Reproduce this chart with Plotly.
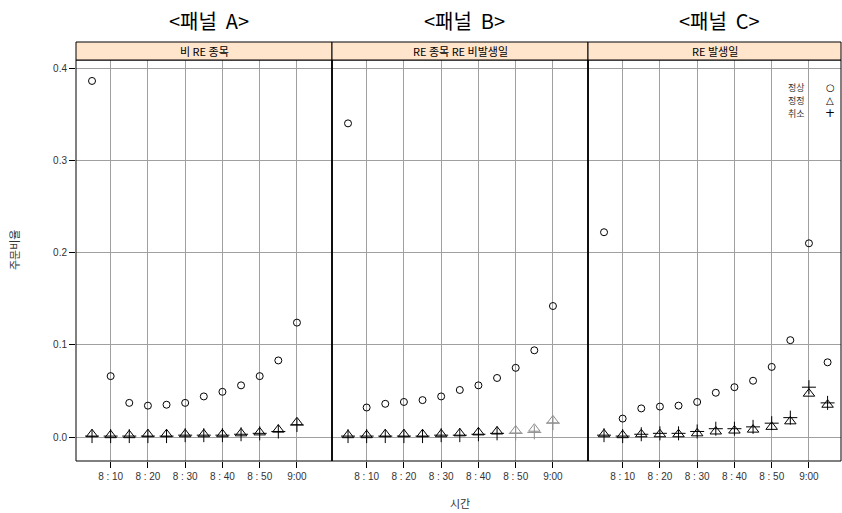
import plotly.graph_objects as go

# ---- data ----
MINUTES_AB = [5, 10, 15, 20, 25, 30, 35, 40, 45, 50, 55, 60]
MINUTES_C = [5, 10, 15, 20, 25, 30, 35, 40, 45, 50, 55, 60, 65]
TICK_VALS = [10, 20, 30, 40, 50, 60]
TICK_LABELS = ["8 : 10", "8 : 20", "8 : 30", "8 : 40", "8 : 50", "9:00"]
Y_TICKS = [0.0, 0.1, 0.2, 0.3, 0.4]
Y_LABELS = ["0.0", "0.1", "0.2", "0.3", "0.4"]

PANEL_TITLES = ["<패널 A>", "<패널 B>", "<패널 C>"]
STRIP_LABELS = ["비 RE 종목", "RE 종목 RE 비발생일", "RE 발생일"]
SERIES_NAMES = ["정상", "정정", "취소"]

A_normal = [0.386, 0.066, 0.037, 0.034, 0.035, 0.037, 0.044, 0.049, 0.056, 0.066, 0.083, 0.124]
A_modify = [0.003, 0.002, 0.002, 0.003, 0.003, 0.003, 0.003, 0.003, 0.004, 0.005, 0.008, 0.016]
A_cancel = [0.001, 0.001, 0.001, 0.001, 0.001, 0.002, 0.002, 0.002, 0.003, 0.004, 0.006, 0.013]

B_normal = [0.340, 0.032, 0.036, 0.038, 0.040, 0.044, 0.051, 0.056, 0.064, 0.075, 0.094, 0.142]
B_modify = [0.002, 0.002, 0.003, 0.003, 0.003, 0.003, 0.004, 0.005, 0.006, 0.007, 0.009, 0.018]
B_cancel = [0.001, 0.001, 0.001, 0.001, 0.001, 0.002, 0.002, 0.003, 0.004, 0.004, 0.005, 0.015]

C_normal = [0.222, 0.020, 0.031, 0.033, 0.034, 0.038, 0.048, 0.054, 0.061, 0.076, 0.105, 0.210, 0.081]
C_modify = [0.003, 0.002, 0.003, 0.003, 0.003, 0.004, 0.006, 0.007, 0.008, 0.011, 0.017, 0.047, 0.035]
C_cancel = [0.002, 0.001, 0.003, 0.004, 0.004, 0.006, 0.009, 0.009, 0.011, 0.015, 0.021, 0.054, 0.037]

# ---- layout geometry ----
W, H = 842, 513
FONT = "Noto Sans CJK KR"
NUM_FONT = "Liberation Sans, Noto Sans CJK KR"
panels_px = [(76, 332), (332, 588), (588, 841)]
plot_top, plot_bot = 60, 461
strip_top = 42
PX_PER_MIN = 3.726
X0 = 0.7


def px2fx(px):
    return px / W


def px2fy(py):
    return (H - py) / H


fig = go.Figure()

panel_data = [
    (MINUTES_AB, A_normal, A_modify, A_cancel, None),
    (MINUTES_AB, B_normal, B_modify, B_cancel, 9),  # from index 9 drawn grey
    (MINUTES_C, C_normal, C_modify, C_cancel, None),
]

symbols = ["circle-open", "triangle-up-open", "cross-thin-open"]
sizes = [7, 10, 10]

for i, (xs, n, m, c, grey_from) in enumerate(panel_data):
    ax = "" if i == 0 else str(i + 1)
    for k, ys in enumerate([n, m, c]):
        if grey_from is not None and k > 0:
            cols = ["black" if j < grey_from else "#8c8c8c" for j in range(len(ys))]
        else:
            cols = "black"
        fig.add_trace(go.Scatter(
            x=xs, y=ys, mode="markers", name=SERIES_NAMES[k], showlegend=False,
            xaxis="x" + ax, yaxis="y" + ax,
            marker=dict(symbol=symbols[k], size=sizes[k], color=cols,
                        line=dict(width=1, color=cols)),
        ))

layout = dict(
    width=W, height=H, margin=dict(l=0, r=0, t=0, b=0),
    paper_bgcolor="white", plot_bgcolor="white",
    font=dict(family=FONT, size=10, color="#333333"),
    showlegend=False,
)

shapes = []
annotations = []
for i, (l, r) in enumerate(panels_px):
    ax = "" if i == 0 else str(i + 1)
    xr = [X0, X0 + (r - l) / PX_PER_MIN]
    layout["xaxis" + ax] = dict(
        domain=[px2fx(l), px2fx(r)], range=xr, anchor="y" + ax,
        tickvals=TICK_VALS, ticktext=TICK_LABELS, ticks="outside", ticklen=6,
        tickcolor="black", showgrid=True, gridcolor="#a0a0a0", gridwidth=1,
        zeroline=False, showline=False,
        tickfont=dict(size=10, color="#333333", family=NUM_FONT),
        fixedrange=True,
    )
    layout["yaxis" + ax] = dict(
        domain=[px2fy(plot_bot), px2fy(plot_top)], range=[-0.026, 0.4087],
        anchor="x" + ax, tickvals=Y_TICKS, ticktext=Y_LABELS,
        showticklabels=(i == 0), ticks="outside" if i == 0 else "", ticklen=6,
        tickcolor="black", showgrid=True, gridcolor="#a0a0a0", gridwidth=1,
        zeroline=False, showline=False,
        tickfont=dict(size=10, color="#333333", family=NUM_FONT),
        fixedrange=True,
    )
    # panel border
    shapes.append(dict(type="rect", xref="paper", yref="paper",
                       x0=px2fx(l), x1=px2fx(r), y0=px2fy(plot_bot), y1=px2fy(plot_top),
                       line=dict(color="black", width=1), layer="above"))
    # strip
    shapes.append(dict(type="rect", xref="paper", yref="paper",
                       x0=px2fx(l), x1=px2fx(r), y0=px2fy(plot_top), y1=px2fy(strip_top),
                       fillcolor="#ffe5cc", line=dict(color="black", width=1), layer="above"))
    annotations.append(dict(xref="paper", yref="paper", x=px2fx((l + r) / 2),
                            y=px2fy((plot_top + strip_top) / 2), text=STRIP_LABELS[i],
                            showarrow=False, font=dict(size=11, color="black"),
                            xanchor="center", yanchor="middle"))
    annotations.append(dict(xref="paper", yref="paper", x=px2fx((l + r) / 2 + 5),
                            y=px2fy(20), text=PANEL_TITLES[i].replace("<", "&lt;").replace(">", "&gt;").replace(" ", "  "),
                            showarrow=False, font=dict(size=20, color="black"),
                            xanchor="center", yanchor="middle"))

# thicker separators between panels
for sx in [332, 588]:
    shapes.append(dict(type="line", xref="paper", yref="paper",
                       x0=px2fx(sx), x1=px2fx(sx), y0=px2fy(plot_bot), y1=px2fy(plot_top),
                       line=dict(color="black", width=1.5), layer="above"))

# axis titles
annotations.append(dict(xref="paper", yref="paper", x=px2fx(460), y=px2fy(503),
                        text="시간", showarrow=False, font=dict(size=11, color="#333333"),
                        xanchor="center", yanchor="middle"))
annotations.append(dict(xref="paper", yref="paper", x=px2fx(14), y=px2fy(250),
                        text="주문비율", showarrow=False, textangle=-90,
                        font=dict(size=11, color="#333333"),
                        xanchor="center", yanchor="middle"))

# legend (key text left, symbols right)
leg_syms = ["○", "△", "+"]
for k, name in enumerate(SERIES_NAMES):
    yy = 87 + k * 13
    annotations.append(dict(xref="paper", yref="paper", x=px2fx(807), y=px2fy(yy),
                            text=name, showarrow=False, font=dict(size=9, color="#333333"),
                            xanchor="right", yanchor="middle"))
    annotations.append(dict(xref="paper", yref="paper", x=px2fx(830), y=px2fy(yy),
                            text=leg_syms[k], showarrow=False,
                            font=dict(size=10 if k != 2 else 12, color="black", family="DejaVu Sans"),
                            xanchor="center", yanchor="middle"))

layout["shapes"] = shapes
layout["annotations"] = annotations
fig.update_layout(**layout)

fig.write_html("out.html", config={"displayModeBar": False},
               post_script="document.body.style.margin='0px';document.body.style.overflow='hidden';")
